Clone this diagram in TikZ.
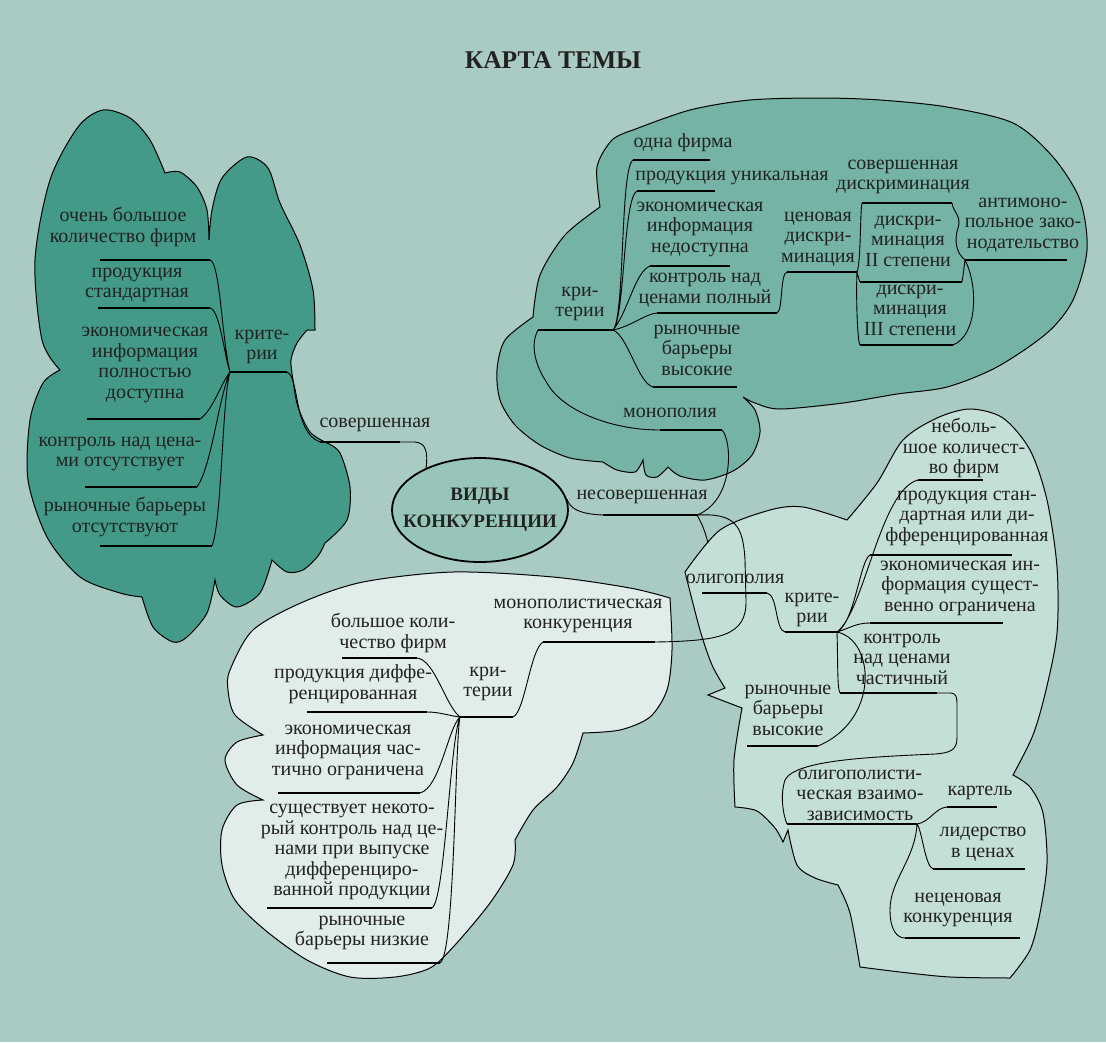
\documentclass[tikz,border=0pt]{standalone}
\usepackage{fontspec}
\setmainfont{Liberation Serif}
\usetikzlibrary{shapes.geometric}
\definecolor{bgc}{HTML}{A9CBC4}
\definecolor{blobA}{HTML}{439A88}
\definecolor{blobB}{HTML}{74B3A6}
\definecolor{blobC}{HTML}{E0EDEA}
\definecolor{blobD}{HTML}{C4DED8}
\definecolor{ellc}{HTML}{97C5BA}
\definecolor{txt}{HTML}{222222}
\tikzset{
  lbl/.style={align=center, inner sep=0pt, text=txt, font=\fontsize{20}{20.5}\selectfont},
  ttl/.style={inner sep=0pt, text=txt, font=\fontsize{25.5}{30}\selectfont\bfseries},
  vkell/.style={ellipse, draw=black, line width=1.8pt, fill=ellc, minimum width=176pt, minimum height=104pt, inner sep=0pt},
  vktxt/.style={align=center, inner sep=0pt, text=txt, font=\fontsize{19}{27}\selectfont\bfseries},
  uline/.style={line width=1.7pt},
  conn/.style={line width=0.9pt},
  blob/.style={draw=black, line width=1pt}
}
\begin{document}
\begin{tikzpicture}[x=1pt,y=-1pt]
\useasboundingbox (0,0) rectangle (1106,1042);
\fill[bgc] (0,0) rectangle (1106,1042);

\filldraw[blob, fill=blobC] plot[smooth] coordinates {(670,598) (630,588) (553,577) (453,572) (363,582) (303,602) (253,630) (230,670) (228,690) (235,715) (263,735)}
 -- plot[smooth] coordinates {(263,735) (237,742) (225,760) (237,785) (263,800)}
 -- plot[smooth] coordinates {(263,800) (237,805) (222,830) (222,865) (235,900) (265,930) (307,960) (350,977) (395,977) (430,968) (455,945) (490,903) (513,865) (515,840)}
 -- plot[smooth] coordinates {(515,840) (533,810) (557,787) (573,763) (583,733)}
 -- plot[smooth] coordinates {(583,733) (620,730) (650,717) (667,690) (672,650) (670,598)}
 -- cycle;

\filldraw[blob, fill=blobD] plot[smooth] coordinates {(685,572) (720,530) (770,510) (803,507) (847,520)}
 -- plot[smooth] coordinates {(847,520) (877,483) (903,440) (937,418) (970,409) (1003,418) (1030,450) (1047,500) (1057,567) (1057,633) (1046,690) (1033,735) (1013,775)}
 -- plot[smooth] coordinates {(1013,775) (1030,787) (1043,813) (1047,863) (1040,913) (1030,950) (1010,978)}
 -- plot[smooth] coordinates {(1010,978) (950,977) (900,972) (860,967)}
 -- plot[smooth] coordinates {(860,967) (850,913) (838,885)}
 -- plot[smooth] coordinates {(838,885) (815,878) (797,865) (788,830)}
 -- (783,842)
 -- plot[smooth] coordinates {(783,842) (775,828) (757,811) (735,807)}
 -- plot[smooth] coordinates {(735,807) (734,760) (742,708)}
 -- (708,695) -- (725,688)
 -- plot[smooth] coordinates {(725,688) (712,665) (700,630) (685,572)}
 -- cycle;

\filldraw[blob, fill=blobB] plot[smooth] coordinates {(600,207) (597,167) (612,140) (633,130)}
 -- plot[smooth] coordinates {(633,130) (690,110) (750,100) (820,98) (880,100) (947,107) (1013,123) (1053,157) (1080,200) (1087,250) (1073,300) (1047,333) (997,367) (947,387) (897,394) (843,403) (780,409) (755,403) (743,397)}
 -- plot[smooth] coordinates {(743,397) (755,410) (760,432) (752,455) (733,471) (705,480) (680,476) (668,467)}
 -- plot[smooth] coordinates {(668,467) (657,477) (646,475) (643,460)}
 -- plot[smooth] coordinates {(643,460) (635,472) (617,470) (603,462)}
 -- plot[smooth] coordinates {(603,462) (570,458) (540,445) (515,425) (500,400) (497,370) (505,340) (533,317)}
 -- plot[smooth] coordinates {(533,317) (540,275) (565,235) (600,207)}
 -- cycle;

\filldraw[blob, fill=blobA] plot[smooth] coordinates {(60,370) (42,340) (35,260) (50,180) (78,127) (103,110) (130,118) (150,140) (165,173)}
 -- plot[smooth] coordinates {(165,173) (180,172) (197,187) (207,210) (209,240)}
 -- plot[smooth] coordinates {(209,240) (212,210) (222,178) (247,157) (268,168) (280,203) (300,245) (313,290) (315,330)}
 -- (307,330)
 -- plot[smooth] coordinates {(307,330) (297,343) (291,360) (293,380) (298,407) (310,432) (327,443)}
 -- plot[smooth] coordinates {(327,443) (340,453) (350,487) (347,520) (325,543)}
 -- plot[smooth] coordinates {(325,543) (318,556) (303,570) (287,572) (272,560)}
 -- plot[smooth] coordinates {(272,560) (260,593) (237,607) (220,595) (215,580)}
 -- plot[smooth] coordinates {(215,580) (207,613) (187,637) (173,642) (153,627) (142,597)}
 -- plot[smooth] coordinates {(142,597) (120,593) (80,577) (47,537) (28,480) (30,420) (43,383) (60,370)}
 -- cycle;

\node[ttl] (title) at (553,60) {КАРТА ТЕМЫ};
\node[vkell] (vk) at (480,510) {};
\node[vktxt] (vkt) at (vk.center) {ВИДЫ\\КОНКУРЕНЦИИ};

\node[lbl] (a0) at (262,347) {крите-\\рии};
\node[lbl] (a1) at (123,227) {очень большое\\количество фирм};
\node[lbl] (a2) at (137,285) {продукция\\стандартная};
\node[lbl] (a3) at (145,365) {экономическая\\информация\\полностью\\доступна};
\node[lbl] (a4) at (120,454) {контроль над цена-\\ми отсутствует};
\node[lbl] (a5) at (125,517) {рыночные барьеры\\отсутствуют};
\node[lbl] (sov) at (375,425) {совершенная};
\coordinate (a0l) at (230,372); \coordinate (a0r) at (287,372);
\coordinate (a1l) at (100,260); \coordinate (a1r) at (210,260);
\coordinate (a2l) at (98,308);  \coordinate (a2r) at (210,308);
\coordinate (a3l) at (87,419);  \coordinate (a3r) at (200,419);
\coordinate (a4l) at (85,487);  \coordinate (a4r) at (197,487);
\coordinate (a5l) at (100,546); \coordinate (a5r) at (212,546);
\coordinate (sovl) at (320,442); \coordinate (sovr) at (400,442);

\node[lbl] (b0) at (580,304) {кри-\\терии};
\node[lbl] (b1) at (683,143) {одна фирма};
\node[lbl] (b2) at (732,178) {продукция уникальная};
\node[lbl] (b3) at (700,229) {экономическая\\информация\\недоступна};
\node[lbl] (b4) at (705,290) {контроль над\\ценами полный};
\node[lbl] (b5) at (697,350) {рыночные\\барьеры\\высокие};
\node[lbl] (b6) at (818,239) {ценовая\\дискри-\\минация};
\node[lbl] (b7) at (903,177) {совершенная\\дискриминация};
\node[lbl] (b8) at (908,241) {дискри-\\минация\\II степени};
\node[lbl] (b9) at (910,310) {дискри-\\минация\\III степени};
\node[lbl] (b10) at (1023,225) {антимоно-\\польное зако-\\нодательство};
\node[lbl] (b11) at (670,413) {монополия};
\coordinate (b0l) at (538,330);  \coordinate (b0r) at (613,330);
\coordinate (b1l) at (633,160);  \coordinate (b1r) at (710,160);
\coordinate (b2l) at (637,191);  \coordinate (b2r) at (715,191);
\coordinate (b3l) at (650,266);  \coordinate (b3r) at (730,266);
\coordinate (b4l) at (657,313);  \coordinate (b4r) at (777,313);
\coordinate (b5l) at (653,387);  \coordinate (b5r) at (737,387);
\coordinate (b6l) at (787,272);  \coordinate (b6r) at (857,272);
\coordinate (b7l) at (862,203);  \coordinate (b7r) at (952,203);
\coordinate (b8l) at (860,282);  \coordinate (b8r) at (962,282);
\coordinate (b9l) at (860,345);  \coordinate (b9r) at (953,345);
\coordinate (b10l) at (965,260); \coordinate (b10r) at (1067,260);
\coordinate (b11l) at (660,430); \coordinate (b11r) at (722,430);

\node[lbl] (nesov) at (642,497) {несовершенная};
\coordinate (nl) at (603,515); \coordinate (nr) at (697,515);
\coordinate (oe) at (708,543);

\node[lbl] (c0) at (578,616) {монополистическая\\конкуренция};
\node[lbl] (c1) at (488,684) {кри-\\терии};
\node[lbl] (c2) at (393,633) {большое коли-\\чество фирм};
\node[lbl] (c3) at (353,684) {продукция диффе-\\ренцированная};
\node[lbl] (c4) at (348,752) {экономическая\\информация час-\\тично ограничена};
\node[lbl] (c5) at (352,852) {существует некото-\\рый контроль над це-\\нами при выпуске\\дифференциро-\\ванной продукции};
\node[lbl] (c6) at (362,933) {рыночные\\барьеры низкие};
\coordinate (c0l) at (543,642); \coordinate (c0r) at (655,642);
\coordinate (c1l) at (460,717); \coordinate (c1r) at (513,717);
\coordinate (c2l) at (342,658); \coordinate (c2r) at (417,658);
\coordinate (c3l) at (307,712); \coordinate (c3r) at (427,712);
\coordinate (c4l) at (278,793); \coordinate (c4r) at (420,793);
\coordinate (c5l) at (267,908); \coordinate (c5r) at (432,908);
\coordinate (c6l) at (327,963); \coordinate (c6r) at (440,963);

\node[lbl] (d0) at (735,579) {олигополия};
\node[lbl] (d1) at (812,610) {крите-\\рии};
\node[lbl] (d2) at (964,448) {неболь-\\шое количест-\\во фирм};
\node[lbl] (d3) at (967,518) {продукция стан-\\дартная или ди-\\фференцированная};
\node[lbl] (d4) at (960,588) {экономическая ин-\\формация сущест-\\венно ограничена};
\node[lbl] (d5) at (902,659) {контроль\\над ценами\\частичный};
\node[lbl] (d6) at (788,710) {рыночные\\барьеры\\высокие};
\node[lbl] (d7) at (860,795) {олигополисти-\\ческая взаимо-\\зависимость};
\node[lbl] (d8) at (980,793) {картель};
\node[lbl] (d9) at (983,844) {лидерство\\в ценах};
\node[lbl] (d10) at (958,910) {неценовая\\конкуренция};
\coordinate (d0l) at (702,593);  \coordinate (d0r) at (767,593);
\coordinate (d1l) at (785,632);  \coordinate (d1r) at (837,632);
\coordinate (d2l) at (918,480);  \coordinate (d2r) at (983,480);
\coordinate (d3l) at (870,555);  \coordinate (d3r) at (1012,555);
\coordinate (d4l) at (870,623);  \coordinate (d4r) at (1003,623);
\coordinate (d5l) at (840,693);  \coordinate (d5r) at (937,693);
\coordinate (d6l) at (747,746);  \coordinate (d6r) at (818,746);
\coordinate (d7l) at (787,824);  \coordinate (d7r) at (917,824);
\coordinate (d8l) at (947,807);  \coordinate (d8r) at (997,807);
\coordinate (d9l) at (933,869);  \coordinate (d9r) at (1025,869);
\coordinate (d10l) at (905,938); \coordinate (d10r) at (1020,938);

\draw[uline] (a0l) -- (a0r) (a1l) -- (a1r) (a2l) -- (a2r) (a3l) -- (a3r) (a4l) -- (a4r) (a5l) -- (a5r) (sovl) -- (sovr)
 (b0l) -- (b0r) (b1l) -- (b1r) (b2l) -- (b2r) (b3l) -- (b3r) (b4l) -- (b4r) (b5l) -- (b5r) (b6l) -- (b6r)
 (b7l) -- (b7r) (b8l) -- (b8r) (b9l) -- (b9r) (b10l) -- (b10r) (b11l) -- (b11r)
 (nl) -- (nr)
 (c0l) -- (c0r) (c1l) -- (c1r) (c2l) -- (c2r) (c3l) -- (c3r) (c4l) -- (c4r) (c5l) -- (c5r) (c6l) -- (c6r)
 (d0l) -- (d0r) (d1l) -- (d1r) (d2l) -- (d2r) (d3l) -- (d3r) (d4l) -- (d4r) (d5l) -- (d5r) (d6l) -- (d6r)
 (d7l) -- (d7r) (d8l) -- (d8r) (d9l) -- (d9r) (d10l) -- (d10r);

\draw[conn] (a1r) .. controls (220,262) and (222,340) .. (a0l)
 (a2r) .. controls (220,310) and (224,355) .. (a0l)
 (a3r) .. controls (213,410) and (220,385) .. (a0l)
 (a4r) .. controls (212,465) and (218,400) .. (a0l)
 (a5r) .. controls (222,520) and (222,400) .. (a0l)
 (a0r) .. controls (300,378) and (293,432) .. (sovl)
 (sovr) -- (415,442) .. controls (426,443) and (428,452) .. (vk.142);

\draw[conn] (b0r) .. controls (625,318) and (620,168) .. (b1l)
 (b0r) .. controls (625,318) and (623,198) .. (b2l)
 (b0r) .. controls (628,312) and (635,272) .. (b3l)
 (b0r) .. controls (632,326) and (645,314) .. (b4l)
 (b0r) .. controls (628,336) and (638,383) .. (b5l)
 (b4r) .. controls (783,311) and (780,273) .. (b6l)
 (b6r) .. controls (861,262) and (860,212) .. (b7l)
 (b6r) .. controls (858,276) and (859,280) .. (b8l)
 (b6r) .. controls (856,290) and (857,340) .. (b9l)
 (b10l) .. controls (956,253) and (954,240) .. (958,228) .. controls (962,216) and (953,212) .. (b7r)
 (b10l) .. controls (964,268) and (963,276) .. (b8r)
 (b10l) .. controls (978,285) and (978,335) .. (b9r)
 (b11l) .. controls (610,430) and (562,410) .. (547,383) .. controls (535,365) and (530,345) .. (b0l)
 (b11r) .. controls (732,440) and (735,500) .. (nr);

\draw[conn] (vk.7) .. controls (570,508) and (578,514) .. (nl)
 (nr) .. controls (703,525) and (706,535) .. (oe)
 (nr) .. controls (735,513) and (743,525) .. (745,560) -- (746,600) .. controls (747,636) and (720,641) .. (c0r);

\draw[conn] (c0l) .. controls (530,650) and (525,712) .. (c1r)
 (c2r) .. controls (435,660) and (445,705) .. (c1l)
 (c3r) .. controls (440,712) and (450,716) .. (c1l)
 (c1l) .. controls (448,728) and (440,788) .. (c4r)
 (c1l) .. controls (450,740) and (445,900) .. (c5r)
 (c1l) .. controls (455,740) and (455,955) .. (c6r);

\draw[conn] (d0r) .. controls (778,595) and (775,630) .. (d1l)
 (d1r) .. controls (865,610) and (880,490) .. (d2l)
 (d1r) .. controls (855,622) and (860,560) .. (d3l)
 (d1r) .. controls (850,628) and (856,623) .. (d4l)
 (d1r) .. controls (838,660) and (837,688) .. (d5l)
 (d1r) .. controls (875,640) and (880,720) .. (d6r)
 (d5r) -- (950,693) .. controls (958,693) and (957,700) .. (957,712) -- (957,738) .. controls (957,750) and (950,753) .. (935,754) .. controls (870,757) and (795,760) .. (785,780) .. controls (780,795) and (783,815) .. (d7l)
 (d7r) .. controls (930,822) and (935,808) .. (d8l)
 (d7r) .. controls (922,830) and (925,866) .. (d9l)
 (d7r) .. controls (915,860) and (890,880) .. (890,910) .. controls (890,930) and (897,938) .. (d10l);
\end{tikzpicture}
\end{document}
